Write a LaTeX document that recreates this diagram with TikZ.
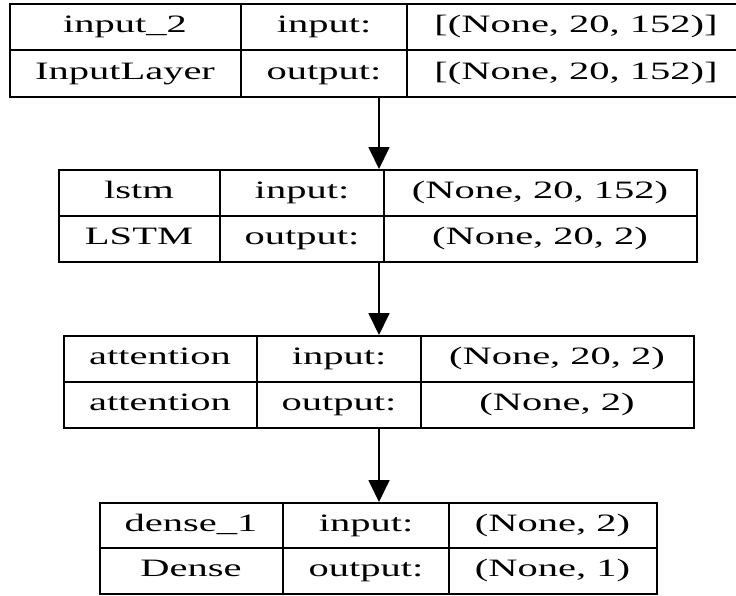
\documentclass[tikz,border=0pt]{standalone}
\usepackage{fontspec}
\setmainfont[FakeStretch=1.62]{Liberation Serif}
\usetikzlibrary{arrows.meta}
\begin{document}
\begin{tikzpicture}[x=1pt,y=-1pt,
  frame/.style={draw, line width=1.8pt, inner sep=0pt, anchor=north west},
  grid/.style={line width=1.4pt},
  cell/.style={font=\fontsize{25}{25}\selectfont, inner sep=0pt,
               text height=17pt, text depth=5pt},
  flow/.style={line width=1.8pt, -{Triangle[length=22pt,width=21pt]}}]
\useasboundingbox (0,0) rectangle (736,595);
\clip (0,0) rectangle (736,595);
\coordinate (ax) at (379,0);

% input layer
\node[frame, minimum width=736pt, minimum height=93pt] (inp) at (9,3) {};
\draw[grid] (9,50) -- (745,50) (241,3) -- (241,96) (407,3) -- (407,96);
\node[cell] (inp-a) at (125,26.5) {input\_2};
\node[cell] (inp-b) at (324,26.5) {input:};
\node[cell] (inp-c) at (576,26.5) {[(None, 20, 152)]};
\node[cell] (inp-d) at (125,73) {InputLayer};
\node[cell] (inp-e) at (324,73) {output:};
\node[cell] (inp-f) at (576,73) {[(None, 20, 152)]};

% lstm layer
\node[frame, minimum width=638pt, minimum height=92pt] (lstm) at (58,169) {};
\draw[grid] (58,216) -- (696,216) (220,169) -- (220,261) (384,169) -- (384,261);
\node[cell] (lstm-a) at (139,192.5) {lstm};
\node[cell] (lstm-b) at (302,192.5) {input:};
\node[cell] (lstm-c) at (540,192.5) {(None, 20, 152)};
\node[cell] (lstm-d) at (139,238.5) {LSTM};
\node[cell] (lstm-e) at (302,238.5) {output:};
\node[cell] (lstm-f) at (540,238.5) {(None, 20, 2)};

% attention layer
\node[frame, minimum width=630pt, minimum height=92pt] (att) at (63,335) {};
\draw[grid] (63,382) -- (693,382) (257,335) -- (257,427) (421,335) -- (421,427);
\node[cell] (att-a) at (160,358.5) {attention};
\node[cell] (att-b) at (339,358.5) {input:};
\node[cell] (att-c) at (557,358.5) {(None, 20, 2)};
\node[cell] (att-d) at (160,404.5) {attention};
\node[cell] (att-e) at (339,404.5) {output:};
\node[cell] (att-f) at (557,404.5) {(None, 2)};

% dense layer
\node[frame, minimum width=557pt, minimum height=91pt] (dense) at (99,502) {};
\draw[grid] (99,548) -- (656,548) (283,502) -- (283,593) (449,502) -- (449,593);
\node[cell] (dense-a) at (191,525) {dense\_1};
\node[cell] (dense-b) at (366,525) {input:};
\node[cell] (dense-c) at (552.5,525) {(None, 2)};
\node[cell] (dense-d) at (191,570.5) {Dense};
\node[cell] (dense-e) at (366,570.5) {output:};
\node[cell] (dense-f) at (552.5,570.5) {(None, 1)};

% connections
\draw[flow] (inp.south -| ax) -- (lstm.north -| ax);
\draw[flow] (lstm.south -| ax) -- (att.north -| ax);
\draw[flow] (att.south -| ax) -- (dense.north -| ax);
\end{tikzpicture}
\end{document}
